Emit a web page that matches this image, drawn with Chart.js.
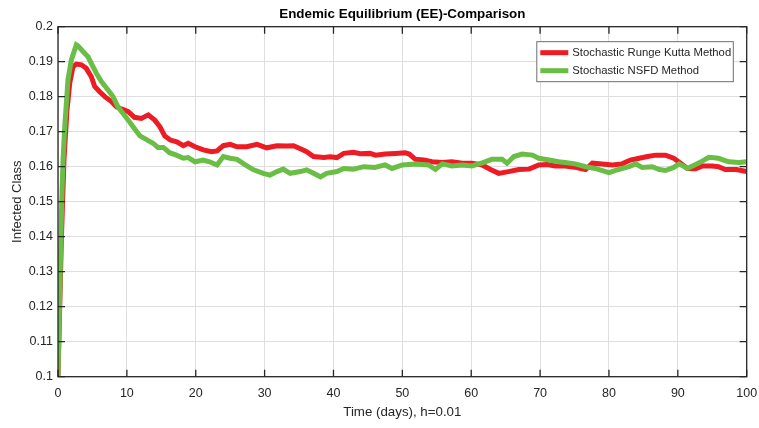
<!DOCTYPE html>
<html>
<head>
<meta charset="utf-8">
<script src="https://cdn.jsdelivr.net/npm/chart.js@4.4.0/dist/chart.umd.min.js"></script>
<style>
  html, body { margin: 0; padding: 0; background: #fff; }
  #wrap { width: 759px; height: 428px; }
</style>
</head>
<body>
<div id="wrap"><canvas id="eeChart"></canvas></div>
<script>
// values
const rkDays = [0, 0.5, 0.87, 1.3, 1.7, 2.18, 2.66, 3.4, 4.1, 4.84, 5.33, 6.05, 6.8, 7.75, 8.5, 9.2, 10.2, 11.1, 12.1, 13.1, 14.05, 14.8, 15.5, 16.3, 17.25, 18.2, 18.9, 19.9, 21.1, 22.3, 23.1, 24, 25, 26, 27.4, 28.9, 30.3, 31.8, 33.2, 34.2, 35.2, 36.1, 37.1, 38.6, 39.5, 40.5, 41.5, 42.9, 43.9, 45.3, 46.1, 47.5, 49, 50.4, 51, 51.9, 53.1, 54.3, 55.8, 57.2, 58.7, 60.1, 61.6, 62.8, 64, 65.4, 66.9, 68.4, 69.8, 71, 72.2, 73.6, 75.1, 76.6, 77.6, 79, 80.5, 81.9, 83.1, 84.4, 85.6, 86.8, 88.2, 89.4, 90.4, 91.4, 92.6, 93.6, 95, 95.9, 96.9, 98.5, 100];
const rkInfected = [0.100, 0.140, 0.162, 0.176, 0.1838, 0.1886, 0.1893, 0.1891, 0.1881, 0.1857, 0.1829, 0.1814, 0.1800, 0.1786, 0.1771, 0.1765, 0.1757, 0.1741, 0.1738, 0.1748, 0.1733, 0.1714, 0.1688, 0.1676, 0.1671, 0.1660, 0.1667, 0.1657, 0.1648, 0.1643, 0.1645, 0.1660, 0.1664, 0.1657, 0.1657, 0.1664, 0.1654, 0.1660, 0.1659, 0.1660, 0.1651, 0.1643, 0.1629, 0.1626, 0.1628, 0.1626, 0.1638, 0.1641, 0.1637, 0.1638, 0.1633, 0.1636, 0.1638, 0.1640, 0.1636, 0.1621, 0.1619, 0.1614, 0.1612, 0.1614, 0.1610, 0.1610, 0.1605, 0.1592, 0.1581, 0.1586, 0.1592, 0.1593, 0.1605, 0.1606, 0.1602, 0.1602, 0.1598, 0.1592, 0.1610, 0.1608, 0.1605, 0.1608, 0.1619, 0.1624, 0.1629, 0.1633, 0.1633, 0.1624, 0.1610, 0.1595, 0.1594, 0.1602, 0.1602, 0.1600, 0.1592, 0.1592, 0.1586];

const nsfdDays = [0, 0.54, 0.73, 1.0, 1.45, 1.94, 2.66, 2.9, 3.63, 4.36, 4.84, 5.57, 6.3, 7.27, 8, 8.7, 9.45, 10.2, 10.9, 11.9, 12.8, 13.8, 14.5, 15.3, 16.2, 17.2, 18.2, 18.9, 19.9, 21.1, 22, 23.1, 24, 25, 26, 27.2, 28.4, 29.8, 30.8, 31.8, 32.7, 33.7, 35.2, 36.1, 37.1, 38.1, 39, 40.5, 41.5, 42.9, 44.4, 46, 47.5, 48.5, 50, 51.9, 53.8, 54.8, 55.8, 57.2, 58.7, 60.1, 61.6, 63, 64.5, 65.2, 66.2, 67.4, 68.9, 69.8, 71.3, 72.7, 73.6, 75.1, 76.6, 78, 80, 81.4, 82.9, 83.9, 84.8, 86.3, 87.3, 88.2, 89.4, 90.2, 91.4, 93.1, 94.5, 95.9, 97.4, 98.9, 100];
const nsfdInfected = [0.100, 0.150, 0.162, 0.172, 0.1848, 0.1905, 0.1948, 0.1945, 0.1929, 0.1914, 0.1895, 0.1867, 0.1843, 0.1819, 0.1800, 0.1771, 0.1752, 0.1733, 0.1714, 0.1688, 0.1678, 0.1667, 0.1655, 0.1655, 0.1640, 0.1633, 0.1624, 0.1626, 0.1614, 0.1619, 0.1614, 0.1605, 0.1629, 0.1624, 0.1621, 0.1605, 0.1591, 0.1581, 0.1576, 0.1586, 0.1593, 0.1581, 0.1586, 0.1591, 0.1581, 0.1571, 0.1581, 0.1586, 0.1595, 0.1593, 0.1600, 0.1598, 0.1605, 0.1595, 0.1605, 0.1608, 0.1605, 0.1592, 0.1608, 0.1602, 0.1605, 0.1602, 0.1611, 0.1621, 0.1621, 0.1610, 0.1629, 0.1636, 0.1633, 0.1624, 0.1619, 0.1614, 0.1612, 0.1608, 0.1600, 0.1595, 0.1583, 0.1592, 0.1600, 0.1608, 0.1598, 0.1600, 0.1592, 0.1589, 0.1598, 0.1608, 0.1595, 0.1611, 0.1627, 0.1624, 0.1614, 0.1612, 0.1614];

const seriesNames = ['Stochastic Runge Kutta Method', 'Stochastic NSFD Method'];
const titleText = 'Endemic Equilibrium (EE)-Comparison';
const xLabel = 'Time (days), h=0.01';
const yLabel = 'Infected Class';

const FONT = '"Liberation Sans", Arial, sans-serif';
const INK = '#262626';

const toPoints = (xs, ys) => xs.map((x, i) => ({ x: x, y: ys[i] }));

// box + inward ticks like matlab
const axisFrame = {
  id: 'axisFrame',
  afterDatasetsDraw: chart => {
    const ctx = chart.ctx;
    const a = chart.chartArea;
    const xs = chart.scales.x;
    const ys = chart.scales.y;
    const len = 7;
    ctx.save();
    ctx.strokeStyle = INK;
    ctx.lineWidth = 1.3;
    ctx.strokeRect(a.left, a.top, a.right - a.left, a.bottom - a.top);
    ctx.beginPath();
    xs.ticks.forEach(t => {
      const px = xs.getPixelForValue(t.value);
      ctx.moveTo(px, a.bottom); ctx.lineTo(px, a.bottom - len);
      ctx.moveTo(px, a.top); ctx.lineTo(px, a.top + len);
    });
    ys.ticks.forEach(t => {
      const py = ys.getPixelForValue(t.value);
      ctx.moveTo(a.left, py); ctx.lineTo(a.left + len, py);
      ctx.moveTo(a.right, py); ctx.lineTo(a.right - len, py);
    });
    ctx.stroke();
    ctx.restore();
  }
};

const boxLegend = {
  id: 'boxLegend',
  afterDraw: chart => {
    const ctx = chart.ctx;
    const a = chart.chartArea;
    const sets = chart.data.datasets;
    const w = 196.5, h = 40;
    const x0 = a.right - 13.4 - w;
    const y0 = a.top + 15;
    ctx.save();
    ctx.fillStyle = '#fff';
    ctx.fillRect(x0, y0, w, h);
    ctx.strokeStyle = '#6e6e6e';
    ctx.lineWidth = 1;
    ctx.strokeRect(x0, y0, w, h);
    ctx.font = '11.3px ' + FONT;
    ctx.textBaseline = 'middle';
    sets.forEach((ds, i) => {
      const cy = y0 + 11 + i * 18;
      ctx.beginPath();
      ctx.moveTo(x0 + 3.5, cy);
      ctx.lineTo(x0 + 31.5, cy);
      ctx.strokeStyle = ds.borderColor;
      ctx.lineWidth = 5;
      ctx.stroke();
      ctx.fillStyle = INK;
      ctx.fillText(ds.label, x0 + 35.5, cy);
    });
    ctx.restore();
  }
};

new Chart(document.getElementById('eeChart'), {
  type: 'line',
  plugins: [axisFrame, boxLegend],
  data: {
    datasets: [{
      label: seriesNames[0],
      data: toPoints(rkDays, rkInfected),
      borderColor: '#ed1c24',
      borderWidth: 5,
      pointRadius: 0,
      tension: 0,
      clip: 0,
      order: 2
    }, {
      label: seriesNames[1],
      data: toPoints(nsfdDays, nsfdInfected),
      borderColor: '#6abd45',
      borderWidth: 5,
      pointRadius: 0,
      tension: 0,
      clip: 0,
      order: 1
    }]
  },
  options: {
    responsive: true,
    maintainAspectRatio: false,
    animation: false,
    devicePixelRatio: 1,
    layout: {
      padding: { top: 0, right: 12.3, bottom: 0, left: 0 }
    },
    plugins: {
      legend: { display: false },
      tooltip: { enabled: false },
      title: {
        display: true,
        fullSize: false,
        text: titleText,
        color: '#000',
        font: { family: FONT, size: 13.4, weight: 'bold' },
        padding: { top: 6.6, bottom: 4 }
      }
    },
    scales: {
      x: {
        type: 'linear',
        min: 0,
        max: 100,
        afterFit: scale => {
          scale.height = 51.3;
          scale.paddingLeft = 0;
          scale.paddingRight = 0;
        },
        grid: { color: '#dedede', lineWidth: 1, drawTicks: false },
        border: { display: false },
        ticks: {
          stepSize: 10,
          color: INK,
          padding: 9,
          maxRotation: 0,
          font: { family: FONT, size: 12.5 }
        },
        title: {
          display: true,
          text: xLabel,
          color: INK,
          font: { family: FONT, size: 13.3 },
          padding: { top: 0, bottom: 7.2 }
        }
      },
      y: {
        min: 0.1,
        max: 0.2,
        afterFit: scale => { scale.width = 58; },
        grid: { color: '#dedede', lineWidth: 1, drawTicks: false },
        border: { display: false },
        ticks: {
          stepSize: 0.01,
          color: INK,
          padding: 5,
          font: { family: FONT, size: 12.5 },
          callback: function (value) {
            return String(Number(value.toFixed(2)));
          }
        },
        title: {
          display: true,
          text: yLabel,
          color: INK,
          font: { family: FONT, size: 13 },
          padding: { top: 9.2, bottom: 0 }
        }
      }
    }
  }
});
</script>
</body>
</html>
